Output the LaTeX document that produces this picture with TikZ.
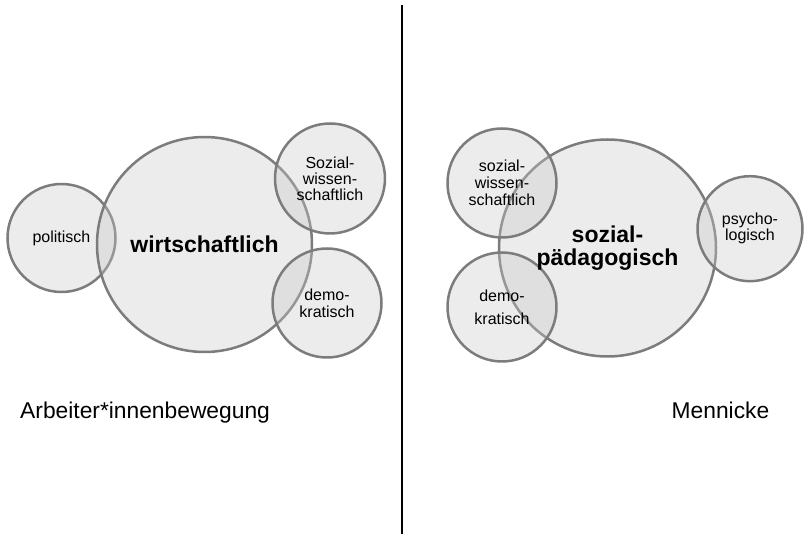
\documentclass[tikz,border=0pt]{standalone}
\usepackage{fontspec}
\setmainfont{Liberation Sans}
\definecolor{bordergray}{HTML}{7C7C7C}
\definecolor{fillgray}{HTML}{C8C8C8}
\begin{document}
\begin{tikzpicture}[x=1pt,y=-1pt,
  bubble/.style={circle, draw=bordergray, line width=2.5pt, fill=fillgray,
    fill opacity=0.35, inner sep=0pt, outer sep=0pt},
  smalltext/.style={align=center, inner sep=0pt, font=\fontsize{16}{#1}\selectfont},
  smalltext/.default=16,
  bigtext/.style={align=center, inner sep=0pt, font=\fontsize{23}{23.5}\selectfont\bfseries},
  caption/.style={inner sep=0pt, font=\fontsize{22.8}{26}\selectfont}]
\useasboundingbox (0,0) rectangle (804,534);

% divider
\coordinate (divtop) at (402,5);
\coordinate (divbot) at (402,534);
\draw[line width=2.6pt] (divtop) -- (divbot);

% left group
\node[bubble, minimum size=108pt] (lpol) at (61.5,238) {};
\node[bubble, minimum size=215pt] (lbig) at (204.5,244.5) {};
\node[bubble, minimum size=110pt] (lsoz) at (330,178.5) {};
\node[bubble, minimum size=109pt] (ldem) at (327,303) {};

\node[smalltext] (lpoltxt) at (lpol.center) {politisch};
\node[bigtext] (lbigtxt) at (lbig.center) {wirtschaftlich};
\node[smalltext] (lsoztxt) at (lsoz.center) {Sozial-\\wissen-\\schaftlich};
\node[smalltext=17] (ldemtxt) at (ldem.center) {demo-\\kratisch};

% right group
\node[bubble, minimum size=217pt] (rbig) at (607.5,248) {};
\node[bubble, minimum size=109pt] (rsoz) at (502,183) {};
\node[bubble, minimum size=109pt] (rdem) at (502,307) {};
\node[bubble, minimum size=105pt] (rpsy) at (750,228.7) {};

\node[bigtext] (rbigtxt) at (rbig.center) {sozial-\\pädagogisch};
\node[smalltext=17] (rsoztxt) at (rsoz.center) {sozial-\\wissen-\\schaftlich};
\node[smalltext=23] (rdemtxt) at (rdem.center) {demo-\\kratisch};
\node[smalltext] (rpsytxt) at (rpsy.center) {psycho-\\logisch};

% captions
\node[caption, anchor=base west] (lcap) at (20,419) {Arbeiter*innenbewegung};
\node[caption, anchor=base] (rcap) at (720.5,419) {Mennicke};
\end{tikzpicture}
\end{document}
